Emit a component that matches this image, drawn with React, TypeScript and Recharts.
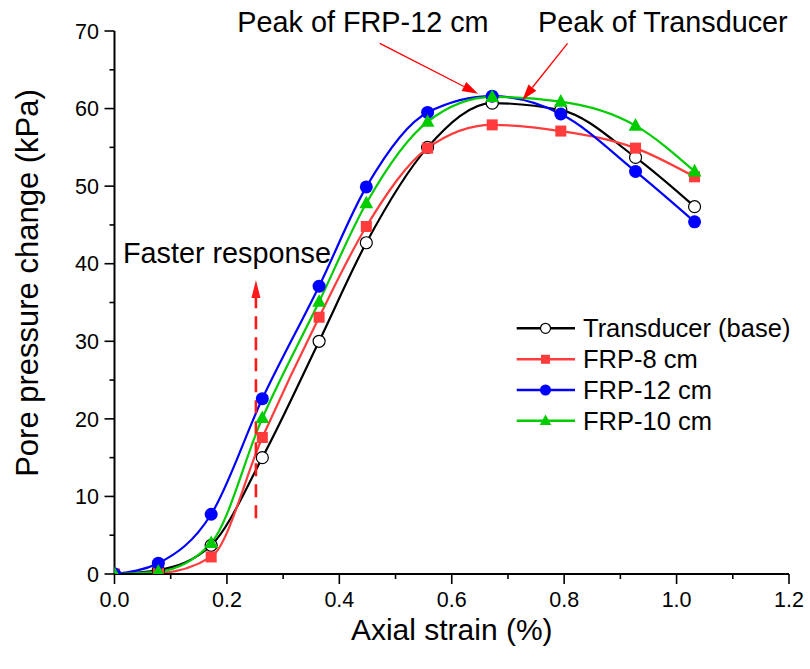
import React from 'react';
import { LineChart, Line, XAxis, YAxis, ReferenceLine, ReferenceDot, Legend } from 'recharts';

// ---------- data ----------
const strain = [0, 0.078, 0.172, 0.263, 0.364, 0.448, 0.557, 0.672, 0.794, 0.927, 1.032];
const transducerBase = [0, 0.5, 3.7, 15.0, 30.0, 42.7, 55.0, 60.7, 59.8, 53.7, 47.35];
const frp8cm = [0, 0.1, 2.2, 17.6, 33.1, 44.8, 54.9, 57.9, 57.1, 54.9, 51.2];
const frp12cm = [0, 1.4, 7.7, 22.6, 37.1, 49.9, 59.5, 61.6, 59.3, 51.9, 45.4];
const frp10cm = [0, 0.3, 4.0, 20.1, 35.1, 47.8, 58.3, 61.5, 60.9, 57.8, 51.9];

const xTicks = [0, 0.1, 0.2, 0.3, 0.4, 0.5, 0.6, 0.7, 0.8, 0.9, 1.0, 1.1, 1.2];
const yTicks = [0, 5, 10, 15, 20, 25, 30, 35, 40, 45, 50, 55, 60, 65, 70];

const seriesKeys = ['t', 'f8', 'f12', 'f10'];
const seriesNames = ['Transducer (base)', 'FRP-8 cm', 'FRP-12 cm', 'FRP-10 cm'];
const seriesColors = ['#000000', '#ff3c3c', '#0000ff', '#00cc00'];
const seriesMarkers = ['openCircle', 'square', 'circle', 'triangle'];

// annotations (data coordinates)
const peak12Text = { x: 0.442, y: 69.87, text: 'Peak of FRP-12 cm' };
const peakTText = { x: 0.9756, y: 69.87, text: 'Peak of Transducer' };
const fasterText = { x: 0.2, y: 40.1, text: 'Faster response' };
const peak12Arrow = [{ x: 0.472, y: 68.4 }, { x: 0.647, y: 61.9 }];
const peakTArrow = [{ x: 0.806, y: 68.4 }, { x: 0.7257, y: 61.1 }];
const fasterArrow = [{ x: 0.2516, y: 7.2 }, { x: 0.2516, y: 37.9 }];

const data = strain.map((s, i) => ({
  strain: s,
  t: transducerBase[i],
  f8: frp8cm[i],
  f12: frp12cm[i],
  f10: frp10cm[i],
}));

const FONT = '"Liberation Sans", Arial, sans-serif';

function Marker({ type, cx, cy, color, s }: any) {
  if (cx == null || cy == null) return null;
  if (type === 'openCircle')
    return <circle cx={cx} cy={cy} r={s} fill="#ffffff" stroke="#000000" strokeWidth={1.2} />;
  if (type === 'circle') return <circle cx={cx} cy={cy} r={s + 0.5} fill={color} />;
  if (type === 'square')
    return <rect x={cx - s + 0.5} y={cy - s + 0.5} width={2 * s - 1} height={2 * s - 1} fill={color} />;
  const h = s * 2.1;
  return (
    <polygon
      points={`${cx},${cy - h * 0.6} ${cx - s * 1.15},${cy + h * 0.4} ${cx + s * 1.15},${cy + h * 0.4}`}
      fill={color}
    />
  );
}

const XTick = (props: any) => {
  const { x, y, payload } = props;
  const v = payload.value;
  const major = Math.round(v * 10) % 2 === 0;
  return (
    <g>
      <line x1={x} x2={x} y1={y} y2={y + (major ? 10 : 5)} stroke="#000" strokeWidth={1.6} />
      {major && (
        <text x={x} y={y + 32.5} textAnchor="middle" fontSize={21.5} fontFamily={FONT} fill="#000">
          {v.toFixed(1)}
        </text>
      )}
    </g>
  );
};

const YTick = (props: any) => {
  const { x, y, payload } = props;
  const v = payload.value;
  const major = v % 10 === 0;
  return (
    <g>
      <line x1={x - (major ? 10 : 5)} x2={x} y1={y} y2={y} stroke="#000" strokeWidth={1.6} />
      {major && (
        <text x={x - 15.5} y={y + 7.7} textAnchor="end" fontSize={21.5} fontFamily={FONT} fill="#000">
          {v}
        </text>
      )}
    </g>
  );
};

const arrowShape = (opts: { dashed?: boolean; L: number; W: number; sw: number; color: string }) => (props: any) => {
  const { x1, y1, x2, y2 } = props;
  if ([x1, y1, x2, y2].some((v) => v == null || isNaN(v))) return <g />;
  const ang = Math.atan2(y2 - y1, x2 - x1);
  const c = Math.cos(ang);
  const s = Math.sin(ang);
  const bx = x2 - opts.L * c;
  const by = y2 - opts.L * s;
  return (
    <g>
      <line
        x1={x1}
        y1={y1}
        x2={bx}
        y2={by}
        stroke={opts.color}
        strokeWidth={opts.sw}
        strokeDasharray={opts.dashed ? '13 8' : undefined}
      />
      <polygon
        points={`${x2},${y2} ${bx + opts.W * s},${by - opts.W * c} ${bx - opts.W * s},${by + opts.W * c}`}
        fill={opts.color}
      />
    </g>
  );
};

const textShape = (text: string) => (props: any) => {
  const { cx, cy } = props;
  return (
    <text x={cx} y={cy} textAnchor="middle" fontSize={28.8} fontFamily={FONT} fill="#000">
      {text}
    </text>
  );
};

const LegendContent = () => {
  const rows = [18.3, 49.3, 80, 110.7];
  return (
    <svg width={300} height={130} style={{ overflow: 'visible' }}>
      {seriesNames.map((name, i) => (
        <g key={name}>
          <line x1={16.7} x2={75} y1={rows[i]} y2={rows[i]} stroke={seriesColors[i]} strokeWidth={2.4} />
          <Marker type={seriesMarkers[i]} cx={45.5} cy={rows[i]} color={seriesColors[i]} s={5} />
          <text x={83} y={rows[i] + 9} fontSize={25.5} fontFamily={FONT} fill="#000">
            {name}
          </text>
        </g>
      ))}
    </svg>
  );
};

export default function App() {
  return (
    <div style={{ position: 'absolute', left: 0, top: 0, width: 810, height: 669, background: '#fff' }}>
      <LineChart
        width={810}
        height={669}
        data={data}
        margin={{ top: 31, right: 21, left: 0, bottom: 0 }}
        style={{ fontFamily: FONT }}
      >
        <XAxis
          dataKey="strain"
          type="number"
          domain={[0, 1.2]}
          ticks={xTicks}
          interval={0}
          height={95}
          tickSize={0}
          tickMargin={0}
          tickLine={false}
          axisLine={{ stroke: '#000', strokeWidth: 2 }}
          tick={<XTick />}
          allowDataOverflow
          label={(p: any) => (
            <text x={451.75} y={640} textAnchor="middle" fontSize={30} fontFamily={FONT} fill="#000">
              Axial strain (%)
            </text>
          )}
        />
        <YAxis
          type="number"
          domain={[0, 70]}
          ticks={yTicks}
          interval={0}
          width={114.5}
          tickSize={0}
          tickMargin={0}
          tickLine={false}
          axisLine={{ stroke: '#000', strokeWidth: 2 }}
          tick={<YTick />}
          allowDataOverflow
          label={(p: any) => (
            <text
              x={38}
              y={283}
              transform="rotate(-90, 38, 283)"
              textAnchor="middle"
              fontSize={31}
              fontFamily={FONT}
              fill="#000"
            >
              Pore pressure change (kPa)
            </text>
          )}
        />
        <Legend
          layout="vertical"
          align="center"
          verticalAlign="middle"
          wrapperStyle={{ position: 'absolute', left: 500, top: 310, width: 300, height: 130 }}
          content={<LegendContent />}
        />
        {seriesKeys.map((k, i) => (
          <Line
            key={k}
            dataKey={k}
            name={seriesNames[i]}
            type="monotone"
            stroke={seriesColors[i]}
            strokeWidth={2.2}
            isAnimationActive={false}
            activeDot={false}
            dot={(p: any) => (
              <Marker key={`${k}-${p.index}`} type={seriesMarkers[i]} cx={p.cx} cy={p.cy} color={seriesColors[i]} s={6} />
            )}
          />
        ))}
        <ReferenceLine
          segment={peak12Arrow}
          ifOverflow="visible"
          shape={arrowShape({ L: 16, W: 5, sw: 1.3, color: '#ff0000' })}
        />
        <ReferenceLine
          segment={peakTArrow}
          ifOverflow="visible"
          shape={arrowShape({ L: 16, W: 5, sw: 1.3, color: '#ff0000' })}
        />
        <ReferenceLine
          segment={fasterArrow}
          ifOverflow="visible"
          shape={arrowShape({ dashed: true, L: 18, W: 4.5, sw: 2.6, color: '#ff1a1a' })}
        />
        <ReferenceDot x={peak12Text.x} y={peak12Text.y} ifOverflow="visible" shape={textShape(peak12Text.text)} />
        <ReferenceDot x={peakTText.x} y={peakTText.y} ifOverflow="visible" shape={textShape(peakTText.text)} />
        <ReferenceDot x={fasterText.x} y={fasterText.y} ifOverflow="visible" shape={textShape(fasterText.text)} />
      </LineChart>
    </div>
  );
}
